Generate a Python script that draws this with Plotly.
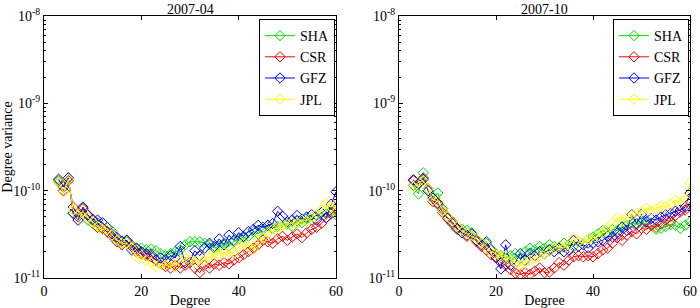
import plotly.graph_objects as go

degrees = list(range(3, 61))
series_names = ["SHA", "CSR", "GFZ", "JPL"]
series_colors = ["#00E000", "#FF0000", "#0000FF", "#FFFF00"]
panel_titles = ["2007-04", "2007-10"]

# 2007-04 (units of 1e-11)
sha_0704 = [13, 11.5, 14, 5.5, 5.3, 6.3, 4.6, 4.2, 4.3, 3.6, 3.4, 3.4, 2.8, 2.5, 2.6, 2.4, 2.2, 2.2, 2.1, 2.15,
            2.05, 1.9, 1.8, 1.9, 2.0, 2.1, 2.4, 2.6, 2.6, 2.6, 2.5, 2.4, 2.2, 2.3, 2.5, 2.3, 2.6, 2.8, 2.9, 3.0,
            3.4, 3.2, 3.6, 4.0, 3.7, 3.9, 4.0, 4.2, 3.9, 4.5, 4.3, 4.8, 4.6, 5.2, 5.6, 5.4, 5.8, 5.3]
csr_0704 = [12.5, 10, 13, 6.5, 5.0, 6.2, 5.2, 4.6, 3.8, 3.7, 3.4, 3.0, 2.6, 2.4, 2.7, 2.3, 2.0, 1.9, 1.8, 1.75,
            1.6, 1.45, 1.35, 1.3, 1.4, 1.3, 1.4, 1.5, 1.3, 1.15, 1.4, 1.3, 1.45, 1.4, 1.5, 1.45, 1.6, 1.7, 1.85, 2.0,
            2.2, 2.4, 2.7, 2.6, 2.5, 2.8, 3.0, 2.7, 2.95, 3.2, 2.9, 3.3, 3.6, 3.8, 4.2, 4.9, 5.4, 6.3]
gfz_0704 = [13.5, 11, 14, 5.5, 4.6, 6.5, 5.3, 4.7, 4.6, 4.3, 3.8, 3.2, 2.9, 2.65, 2.7, 2.1, 2.2, 2.0, 1.9, 1.85,
            1.6, 1.7, 1.6, 1.8, 1.7, 2.3, 1.5, 1.6, 2.05, 1.8, 2.2, 2.5, 2.3, 2.8, 2.4, 3.1, 2.7, 3.3, 3.0, 3.4,
            3.6, 4.0, 3.8, 4.0, 4.2, 5.8, 5.1, 4.4, 4.6, 5.2, 4.7, 5.0, 5.3, 4.6, 5.6, 4.9, 7.0, 9.7]
jpl_0704 = [12.5, 9.5, 13.5, 6.0, 5.2, 5.8, 4.9, 4.4, 3.9, 3.6, 3.7, 3.1, 2.7, 2.5, 2.5, 2.2, 1.75, 1.8, 1.6, 1.5,
            1.35, 1.45, 1.4, 1.5, 1.35, 1.55, 1.7, 1.6, 1.5, 1.7, 1.6, 1.75, 1.9, 1.85, 1.95, 2.0, 1.95, 2.3, 2.5, 2.3,
            2.1, 2.7, 2.9, 3.3, 3.6, 3.8, 4.0, 4.1, 4.3, 4.2, 4.6, 4.5, 4.9, 5.4, 6.0, 7.2, 6.5, 6.9]

# 2007-10 (units of 1e-11)
sha_0710 = [11.5, 9.2, 16, 10, 8.5, 9.4, 6.2, 5.0, 4.2, 3.9, 3.6, 3.5, 3.3, 2.7, 2.5, 2.5, 2.1, 1.9, 1.8, 1.7,
            1.8, 1.9, 1.7, 2.0, 2.2, 2.1, 2.3, 2.2, 2.4, 2.3, 2.2, 2.5, 2.4, 2.3, 2.6, 2.5, 2.8, 2.95, 3.2, 3.5,
            3.3, 3.6, 3.5, 3.9, 4.0, 4.3, 4.1, 4.3, 4.6, 4.0, 3.6, 3.7, 3.9, 4.1, 4.0, 3.7, 4.0, 4.4]
csr_0710 = [13, 12, 14, 10.5, 7.5, 7.0, 5.6, 4.8, 4.2, 3.6, 3.3, 3.0, 3.0, 2.6, 2.3, 2.1, 1.85, 1.75, 1.5, 1.4,
            1.25, 1.14, 1.1, 1.15, 1.1, 1.2, 1.3, 1.15, 1.17, 1.3, 1.5, 1.4, 1.6, 1.75, 1.8, 1.75, 1.8, 1.75, 1.9, 2.1,
            2.2, 2.5, 2.9, 2.7, 3.1, 3.4, 3.2, 3.7, 3.6, 4.0, 3.8, 4.2, 4.6, 4.4, 5.2, 5.7, 6.0, 7.4]
gfz_0710 = [13.3, 12, 13.5, 10, 8.2, 7.2, 6.0, 4.9, 4.4, 3.7, 3.3, 3.1, 3.2, 2.7, 2.4, 2.6, 2.1, 1.7, 1.27, 2.4,
            1.4, 1.5, 1.9, 1.6, 1.9, 1.8, 2.0, 1.9, 2.1, 2.0, 2.2, 2.0, 2.1, 2.7, 2.3, 2.4, 2.2, 2.5, 2.6, 2.7,
            3.0, 2.95, 3.3, 3.8, 3.5, 5.3, 4.2, 5.4, 4.4, 4.8, 4.6, 5.0, 5.3, 5.5, 5.8, 6.0, 6.5, 9.4]
jpl_0710 = [11, 12.5, 13, 10.5, 7.8, 7.5, 6.0, 5.0, 4.5, 3.9, 3.4, 3.2, 3.0, 2.8, 2.5, 2.3, 2.0, 1.9, 1.75, 1.8,
            1.6, 1.5, 1.4, 1.5, 1.6, 1.7, 1.8, 1.9, 2.0, 2.2, 2.3, 2.2, 2.4, 2.9, 2.6, 2.5, 2.8, 2.7, 3.0, 3.3,
            3.7, 4.2, 4.9, 4.5, 5.0, 5.2, 5.5, 5.8, 6.3, 5.9, 6.2, 6.6, 6.5, 7.0, 7.8, 7.2, 8.0, 12.2]

panels = [[sha_0704, csr_0704, gfz_0704, jpl_0704], [sha_0710, csr_0710, gfz_0710, jpl_0710]]
scale = 1e-11

x_ticks = [0, 20, 40, 60]
y_ticks = [1e-11, 1e-10, 1e-9, 1e-8]
y_ticktext = ["10<sup>-11</sup>", "10<sup>-10</sup>", "10<sup>-9</sup>", "10<sup>-8</sup>"]
minor_vals = [m * 10.0 ** e for e in (-11, -10, -9) for m in range(2, 10)]

FONT = "Liberation Serif"
W, H = 700, 308
ML, MR, MT, MB = 44, 10, 16, 30
PW = W - ML - MR
fig = go.Figure()

x_domains = [[0, 292 / PW], [(399 - ML) / PW, 1]]
legend_ids = ["legend", "legend2"]

for p, data in enumerate(panels):
    xa = "x" if p == 0 else "x2"
    ya = "y" if p == 0 else "y2"
    for name, color, vals in zip(series_names, series_colors, data):
        fig.add_trace(go.Scatter(
            x=degrees, y=[v * scale for v in vals], mode="lines+markers", name=name,
            line=dict(color=color, width=1),
            marker=dict(symbol="diamond-open", size=8, color=color, line=dict(width=1, color=color)),
            xaxis=xa, yaxis=ya, legend=legend_ids[p],
        ))

axis_common = dict(showline=True, linecolor="black", linewidth=1, mirror="ticks", ticks="inside",
                   ticklen=4, tickcolor="black", showgrid=False, zeroline=False, automargin=False,
                   tickfont=dict(family=FONT, size=14, color="black"))

for p in range(2):
    sfx = "" if p == 0 else "2"
    fig.update_layout(**{
        "xaxis" + sfx: dict(axis_common, domain=x_domains[p], range=[0, 60], tickvals=x_ticks,
                            anchor="y" + sfx,
                            title=dict(text="Degree", font=dict(family=FONT, size=14, color="black"), standoff=0)),
        "yaxis" + sfx: dict(axis_common, domain=[0, 1], type="log", range=[-11, -8], anchor="x" + sfx,
                            tickvals=y_ticks, ticktext=y_ticktext,
                            minor=dict(tickvals=minor_vals, ticks="inside", ticklen=2, tickcolor="black"),
                            title=dict(text="Degree variance" if p == 0 else "",
                                       font=dict(family=FONT, size=14, color="black"), standoff=2)),
    })
    fig.add_annotation(text=panel_titles[p], xref="paper", yref="paper",
                       x=(x_domains[p][0] + x_domains[p][1]) / 2, y=1, yanchor="bottom",
                       xanchor="center", showarrow=False, yshift=-3,
                       font=dict(family=FONT, size=14, color="black"))

legend_common = dict(bgcolor="white", bordercolor="black", borderwidth=1,
                     font=dict(family=FONT, size=14, color="black"),
                     xanchor="right", yanchor="top", y=1 - 3 / 262, tracegroupgap=0,
                     itemwidth=30)
fig.update_layout(
    legend=dict(legend_common, x=291 / PW),
    legend2=dict(legend_common, x=1 - 1 / PW),
    width=W, height=H, margin=dict(l=ML, r=MR, t=MT, b=MB, autoexpand=False),
    paper_bgcolor="white", plot_bgcolor="white", showlegend=True,
)

fig.write_html("out.html", config={"displayModeBar": False},
               post_script="document.body.style.margin='0';document.body.style.overflow='hidden';")
